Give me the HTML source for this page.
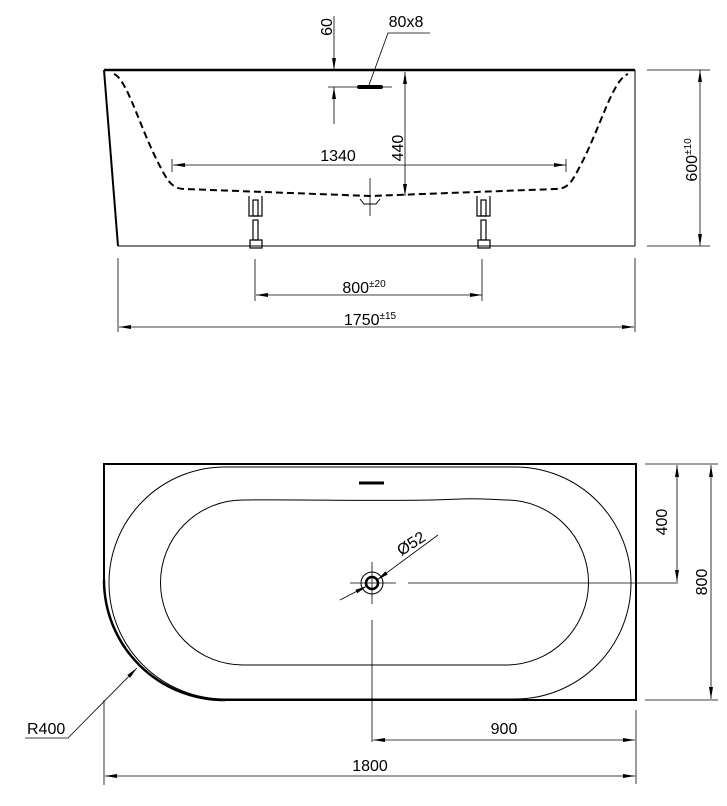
<!DOCTYPE html>
<html><head><meta charset="utf-8"><style>
html,body{margin:0;padding:0;background:#fff;}
svg{display:block;}
text{font-family:"Liberation Sans",sans-serif;fill:#000;}
</style></head><body>
<svg width="727" height="806" viewBox="0 0 727 806" xmlns="http://www.w3.org/2000/svg">
<defs>
<marker id="a" viewBox="0 0 12 4" refX="12" refY="2" markerWidth="12" markerHeight="4" markerUnits="userSpaceOnUse" orient="auto-start-reverse"><path d="M0,0 L12,2 L0,4 Z" fill="#000"/></marker>
</defs>
<g fill="none" stroke="#000">
<line x1="104" y1="70" x2="635" y2="70" stroke-width="2.5"/>
<line x1="104" y1="70" x2="118" y2="246" stroke-width="2"/>
<line x1="118" y1="246" x2="635" y2="246" stroke-width="1"/>
<line x1="635" y1="70" x2="635" y2="246" stroke-width="1"/>
<path d="M114,74 C128,80 140,130 162,170 C170,186 176,189 185,189 L370,196 L555,189 C565,189 570,186 578,170 C600,130 612,80 628,74" stroke-width="2" stroke-dasharray="7,4"/>
<path d="M360,199 L364,204 L376,204 L380,199" stroke-width="1"/>
<line x1="370" y1="178" x2="370" y2="216" stroke-width="0.8"/>
<g stroke-width="1.2">
<path d="M249,196 V216 H262 V196"/><rect x="253" y="200" width="5" height="16"/><rect x="253" y="220" width="5" height="20"/><rect x="250" y="240" width="12" height="8"/>
<path d="M477,196 V216 H490 V196"/><rect x="481" y="200" width="5" height="16"/><rect x="481" y="220" width="5" height="20"/><rect x="478" y="240" width="12" height="8"/>
</g>
<line x1="334" y1="16" x2="334" y2="70" stroke-width="0.8" marker-end="url(#a)"/>
<line x1="334" y1="124" x2="334" y2="87" stroke-width="0.8" marker-end="url(#a)"/>
<line x1="328" y1="87" x2="392" y2="87" stroke-width="0.8"/>
<line x1="359" y1="87" x2="381" y2="87" stroke-width="4" stroke-linecap="round"/>
<polyline points="369,85 388,33 430,33" stroke-width="0.8"/>
<line x1="405" y1="72" x2="405" y2="196" stroke-width="0.8" marker-start="url(#a)" marker-end="url(#a)"/>
<line x1="172" y1="159" x2="172" y2="172" stroke-width="0.8"/>
<line x1="566" y1="159" x2="566" y2="172" stroke-width="0.8"/>
<line x1="173" y1="165" x2="566" y2="165" stroke-width="0.8" marker-start="url(#a)" marker-end="url(#a)"/>
<line x1="647" y1="70" x2="710" y2="70" stroke-width="0.8"/>
<line x1="647" y1="246" x2="710" y2="246" stroke-width="0.8"/>
<line x1="700" y1="70" x2="700" y2="246" stroke-width="0.8" marker-start="url(#a)" marker-end="url(#a)"/>
<line x1="255" y1="259" x2="255" y2="301" stroke-width="0.8"/>
<line x1="482" y1="259" x2="482" y2="301" stroke-width="0.8"/>
<line x1="256" y1="295" x2="482" y2="295" stroke-width="0.8" marker-start="url(#a)" marker-end="url(#a)"/>
<line x1="118" y1="258" x2="118" y2="332" stroke-width="0.8"/>
<line x1="635" y1="258" x2="635" y2="332" stroke-width="0.8"/>
<line x1="119" y1="327" x2="634" y2="327" stroke-width="0.8" marker-start="url(#a)" marker-end="url(#a)"/>

<path d="M104,580 V464 H636 V700 H225" stroke-width="2"/>
<path d="M104,580 A120,120 0 0 0 225,700" stroke-width="2.5"/>
<path d="M225,467 H515 A116,116 0 0 1 515,699 H225 A116,116 0 0 1 225,467 Z" stroke-width="1"/>
<path d="M243,500 C300,499 400,502 460,499 C480,498 500,500 506,500 A82,82 0 0 1 506,665 H243 A82.5,82.5 0 0 1 243,500 Z" stroke-width="1"/>
<line x1="359" y1="483" x2="384" y2="483" stroke-width="3"/>
<circle cx="372" cy="583" r="11" stroke-width="1"/>
<circle cx="372" cy="583" r="6" stroke-width="2.5"/>
<line x1="372" y1="562" x2="372" y2="604" stroke-width="0.8"/>
<line x1="350" y1="583" x2="396" y2="583" stroke-width="0.8"/>
<line x1="408" y1="583" x2="678" y2="583" stroke-width="0.8"/>
<line x1="372" y1="620" x2="372" y2="742" stroke-width="0.8"/>
<line x1="340" y1="600" x2="367" y2="586" stroke-width="0.8" marker-end="url(#a)"/>
<line x1="438" y1="535" x2="377" y2="580" stroke-width="0.8" marker-end="url(#a)"/>
<line x1="645" y1="464" x2="718" y2="464" stroke-width="0.8"/>
<line x1="645" y1="700" x2="718" y2="700" stroke-width="0.8"/>
<line x1="677" y1="465" x2="677" y2="582" stroke-width="0.8" marker-start="url(#a)" marker-end="url(#a)"/>
<line x1="711" y1="465" x2="711" y2="699" stroke-width="0.8" marker-start="url(#a)" marker-end="url(#a)"/>
<line x1="636" y1="710" x2="636" y2="784" stroke-width="0.8"/>
<line x1="104" y1="700" x2="104" y2="785" stroke-width="0.8"/>
<line x1="373" y1="740" x2="635" y2="740" stroke-width="0.8" marker-start="url(#a)" marker-end="url(#a)"/>
<line x1="105" y1="776" x2="635" y2="776" stroke-width="0.8" marker-start="url(#a)" marker-end="url(#a)"/>
<polyline points="25,738 68,738 137,668" stroke-width="0.8" marker-end="url(#a)"/>
</g>
<g font-size="16">
<text x="332" y="27" transform="rotate(-90 332 27)" text-anchor="middle">60</text>
<text x="406" y="27" text-anchor="middle">80x8</text>
<text x="403" y="148" transform="rotate(-90 403 148)" text-anchor="middle">440</text>
<text x="338" y="161" text-anchor="middle">1340</text>
<text x="697" y="160" transform="rotate(-90 697 160)" text-anchor="middle">600<tspan font-size="10" dy="-6">±10</tspan></text>
<text x="364" y="293" text-anchor="middle">800<tspan font-size="10" dy="-6">±20</tspan></text>
<text x="370" y="325" text-anchor="middle">1750<tspan font-size="10" dy="-6">±15</tspan></text>
<text x="414" y="548" transform="rotate(-33 414 548)" text-anchor="middle">Ø52</text>
<text x="667" y="522" transform="rotate(-90 667 522)" text-anchor="middle">400</text>
<text x="707" y="582" transform="rotate(-90 707 582)" text-anchor="middle">800</text>
<text x="504" y="734" text-anchor="middle">900</text>
<text x="370" y="771" text-anchor="middle">1800</text>
<text x="27" y="734">R400</text>
</g>
</svg>
</body></html>
